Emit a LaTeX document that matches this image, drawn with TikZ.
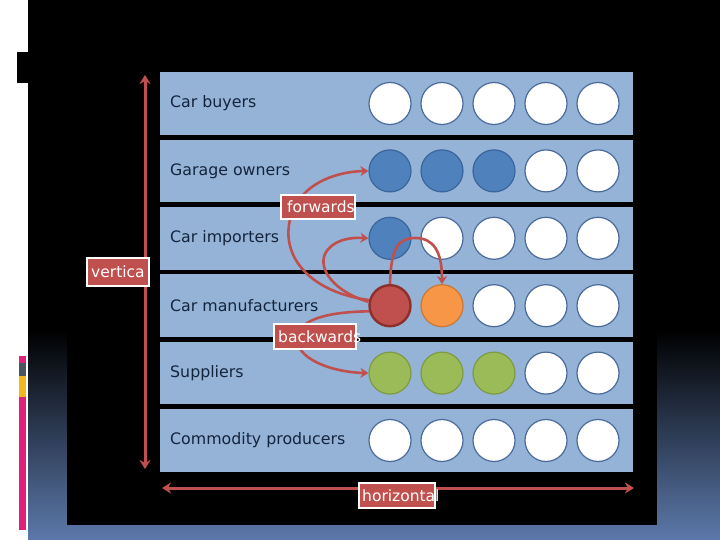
\documentclass[tikz,border=0pt]{standalone}
\usepackage{fontspec}
\setmainfont{DejaVu Sans}
\usetikzlibrary{arrows.meta}
\definecolor{panel}{HTML}{95B3D7}
\definecolor{txt}{HTML}{14243D}
\definecolor{redc}{HTML}{C0504D}
\definecolor{redd}{HTML}{8C302D}
\definecolor{bluec}{HTML}{4F81BD}
\definecolor{blued}{HTML}{3A659C}
\definecolor{orangec}{HTML}{F79646}
\definecolor{oranged}{HTML}{C87834}
\definecolor{greenc}{HTML}{9BBB59}
\definecolor{greend}{HTML}{7E9A44}
\definecolor{ringc}{HTML}{4A6A9A}
\definecolor{bgblue}{HTML}{5C79AB}
\definecolor{pinkbar}{HTML}{E0207A}
\definecolor{graybar}{HTML}{4A5560}
\definecolor{yellowbar}{HTML}{F2B81C}
\tikzset{
  rowbox/.style={fill=panel, draw=none, minimum width=473pt, minimum height=62.5pt, anchor=north west, inner sep=0pt},
  rowlabel/.style={anchor=west, text=txt, font=\fontsize{15.8}{18}\selectfont, inner sep=0pt},
  dot/.style={circle, minimum size=42pt, inner sep=0pt, line width=1.2pt},
  wdot/.style={dot, fill=white, draw=ringc},
  bdot/.style={dot, fill=bluec, draw=blued},
  rdot/.style={dot, fill=redc, draw=redd, line width=2.4pt, minimum size=41pt},
  odot/.style={dot, fill=orangec, draw=oranged},
  gdot/.style={dot, fill=greenc, draw=greend},
  axisarrow/.style={draw=redc, line width=3pt, {Stealth[length=9pt,width=11pt]}-{Stealth[length=9pt,width=11pt]}},
  flowarrow/.style={draw=redc, line width=2.6pt, -{Stealth[length=8pt,width=10pt]}},
  labbox/.style={fill=redc, draw=white, line width=1.2pt, inner sep=0pt},
  labtext/.style={anchor=west, text=white, font=\fontsize{15.5}{18}\selectfont, inner sep=0pt},
}
\begin{document}
\begin{tikzpicture}[x=1pt,y=-1pt]
\useasboundingbox (0,0) rectangle (720,540);
% background
\fill[white] (0,0) rectangle (28,540);
\fill[black] (28,0) rectangle (720,330);
\shade[top color=black, bottom color=bgblue] (28,330) rectangle (720,540);
\fill[black] (67,0) rectangle (657,525);
% left decorations
\fill[black] (17,52) rectangle (28,83);
\fill[pinkbar] (19,356) rectangle (26,363);
\fill[graybar] (19,363) rectangle (26,376);
\fill[yellowbar] (19,376) rectangle (26,397);
\fill[pinkbar] (19,397) rectangle (26,530);
% rows
\foreach \i/\name/\lab in {0/r1/Car buyers,1/r2/Garage owners,2/r3/Car importers,3/r4/Car manufacturers,4/r5/Suppliers,5/r6/Commodity producers}{
  \node[rowbox] (\name) at (160,{72+67.4*\i}) {};
  \node[rowlabel] (\name t) at (170,{103.5+67.4*\i}) {\lab};
}
% circles
\foreach \n/\x in {1/390,2/442,3/494,4/546,5/598}{
  \node[wdot] (a\n) at (\x,103.5) {};
  \node[wdot] (f\n) at (\x,440.5) {};
}
\node[bdot] (b1) at (390,170.9) {};
\node[bdot] (b2) at (442,170.9) {};
\node[bdot] (b3) at (494,170.9) {};
\node[wdot] (b4) at (546,170.9) {};
\node[wdot] (b5) at (598,170.9) {};
\node[bdot] (c1) at (390,238.3) {};
\node[wdot] (c2) at (442,238.3) {};
\node[wdot] (c3) at (494,238.3) {};
\node[wdot] (c4) at (546,238.3) {};
\node[wdot] (c5) at (598,238.3) {};
\node[rdot] (d1) at (390,305.7) {};
\node[odot] (d2) at (442,305.7) {};
\node[wdot] (d3) at (494,305.7) {};
\node[wdot] (d4) at (546,305.7) {};
\node[wdot] (d5) at (598,305.7) {};
\node[gdot] (e1) at (390,373.1) {};
\node[gdot] (e2) at (442,373.1) {};
\node[gdot] (e3) at (494,373.1) {};
\node[wdot] (e4) at (546,373.1) {};
\node[wdot] (e5) at (598,373.1) {};
% axes
\coordinate (vtop) at (145,75);
\coordinate (vbot) at (145,469);
\coordinate (hl) at (162,488);
\coordinate (hr) at (634,488);
\draw[axisarrow] (vtop) -- (vbot);
\draw[axisarrow] (hl) -- (hr);
% flow arrows
\draw[flowarrow] (d1.165) .. controls (310,292) and (284,258) .. (289,225) .. controls (294,188) and (330,172) .. (b1.west);
\draw[flowarrow] (d1.170) .. controls (335,292) and (318,270) .. (325,254) .. controls (332,240) and (350,237) .. (c1.west);
\draw[flowarrow] (d1.north) .. controls (391,248) and (398,238) .. (415,238) .. controls (434,238) and (442,252) .. (d2.north);
\draw[flowarrow] (d1.195) .. controls (325,312) and (300,320) .. (297,337) .. controls (295,358) and (330,372) .. (e1.west);
% labels
\node[labbox, minimum width=62pt, minimum height=28pt] (vbox) at (118,272) {};
\node[labtext] (vtext) at (91,272) {vertica};
\node[labbox, minimum width=74pt, minimum height=24pt] (fbox) at (318,207) {};
\node[labtext] (ftext) at (287,207) {forwards};
\node[labbox, minimum width=82pt, minimum height=25pt] (kbox) at (315,336.5) {};
\node[labtext] (ktext) at (278,337) {backwards};
\node[labbox, minimum width=76pt, minimum height=25pt] (hbox) at (397,495.5) {};
\node[labtext] (htext) at (362,496) {horizontal};
\end{tikzpicture}
\end{document}
